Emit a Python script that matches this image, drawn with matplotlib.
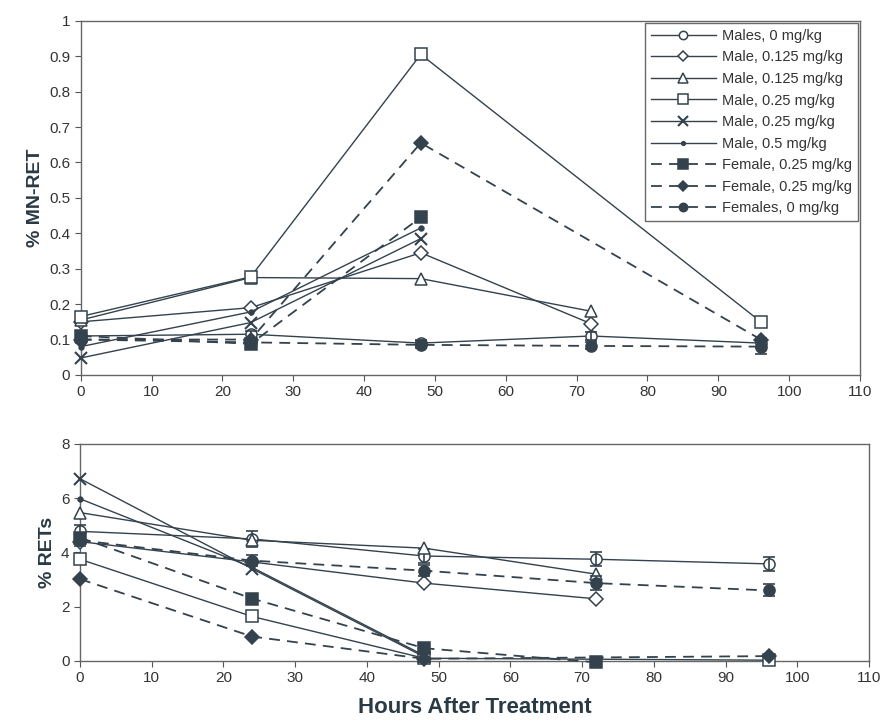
import numpy as np
import matplotlib.pyplot as plt

nan = np.nan
hours = [0, 24, 48, 72, 96]

labels = ["Males, 0 mg/kg", "Male, 0.125 mg/kg", "Male, 0.125 mg/kg",
          "Male, 0.25 mg/kg", "Male, 0.25 mg/kg", "Male, 0.5 mg/kg",
          "Female, 0.25 mg/kg", "Female, 0.25 mg/kg", "Females, 0 mg/kg"]

# % MN-RET
mn_male_0 = [0.11, 0.115, 0.09, 0.11, 0.09]
mn_male_0125a = [0.15, 0.19, 0.345, 0.145, nan]
mn_male_0125b = [0.155, 0.275, 0.272, 0.18, nan]
mn_male_025a = [0.165, 0.277, 0.905, nan, 0.15]
mn_male_025b = [0.048, 0.148, 0.385, nan, nan]
mn_male_05 = [0.08, 0.178, 0.415, nan, nan]
mn_fem_025a = [0.11, 0.088, 0.445, nan, nan]
mn_fem_025b = [0.10, 0.10, 0.655, nan, 0.10]
mn_fem_0 = [0.10, 0.092, 0.085, 0.082, 0.08]
mn_err_male_0 = [0.01, 0.01, 0.01, 0.01, 0.015]
mn_err_fem_0 = [0.01, 0.01, 0.01, 0.01, 0.02]

# % RETs
ret_male_0 = [4.78, 4.5, 3.87, 3.75, 3.58]
ret_male_0125a = [4.4, 3.65, 2.87, 2.29, nan]
ret_male_0125b = [5.47, 4.45, 4.16, 3.2, nan]
ret_male_025a = [3.75, 1.64, 0.1, nan, 0.03]
ret_male_025b = [6.72, 3.4, 0.15, nan, nan]
ret_male_05 = [5.98, 3.45, 0.2, nan, nan]
ret_fem_025a = [4.55, 2.3, 0.47, -0.05, nan]
ret_fem_025b = [3.02, 0.9, 0.08, nan, 0.18]
ret_fem_0 = [4.45, 3.7, 3.33, 2.87, 2.6]
ret_err_male_0 = [0.25, 0.28, 0.25, 0.25, 0.25]
ret_err_fem_0 = [0.2, 0.2, 0.2, 0.25, 0.22]

c = "#33424c"
styles = [
    dict(marker="o", mfc="white", ms=8, ls="-"),
    dict(marker="D", mfc="white", ms=7, ls="-"),
    dict(marker="^", mfc="white", ms=9, ls="-"),
    dict(marker="s", mfc="white", ms=9, ls="-"),
    dict(marker="x", mfc="none", ms=9, ls="-", mew=1.5),
    dict(marker="o", mfc=c, ms=3.5, ls="-"),
    dict(marker="s", mfc=c, ms=9, ls=(0, (6, 4))),
    dict(marker="D", mfc=c, ms=7, ls=(0, (6, 4))),
    dict(marker="o", mfc=c, ms=8, ls=(0, (6, 4))),
]

plt.rcParams['font.family'] = ['Liberation Sans', 'DejaVu Sans']
fig = plt.figure(figsize=(8.85, 7.25), dpi=100)
ax1 = fig.add_axes([0.0912, 0.4828, 0.8806, 0.4886])
ax2 = fig.add_axes([0.0904, 0.0883, 0.8915, 0.2993])


def draw(ax, series, errs):
    for i, (y, st) in enumerate(zip(series, styles)):
        y = np.array(y, dtype=float)
        ok = ~np.isnan(y)
        x = np.array(hours)[ok]
        lw = 1.3 if i >= 6 else 1.0
        kw = dict(st)
        ls = kw.pop("ls")
        ax.plot(x, y[ok], color=c, lw=lw, ls=ls, mec=c, mew=kw.pop("mew", 1.1),
                label=labels[i], clip_on=False, zorder=3, **kw)
        if i in errs:
            ax.errorbar(x, y[ok], yerr=np.array(errs[i])[ok], fmt="none",
                        ecolor=c, elinewidth=1.2, capsize=4, capthick=1.2,
                        clip_on=False, zorder=3)
    ax.set_xlim(0, 110)
    ax.set_xticks(range(0, 111, 10))
    ax.tick_params(direction="out", length=4, color="#555555", labelsize=11,
                   labelcolor="#333333")
    for s in ax.spines.values():
        s.set_color("#666666")
        s.set_linewidth(1.0)


draw(ax1, [mn_male_0, mn_male_0125a, mn_male_0125b, mn_male_025a, mn_male_025b,
           mn_male_05, mn_fem_025a, mn_fem_025b, mn_fem_0],
     {0: mn_err_male_0, 8: mn_err_fem_0})
ax1.set_ylim(0, 1)
ax1.set_yticks(np.arange(0, 1.01, 0.1))
ax1.set_yticklabels(["0", "0.1", "0.2", "0.3", "0.4", "0.5", "0.6", "0.7", "0.8", "0.9", "1"])
ax1.set_ylabel("% MN-RET", fontsize=14, fontweight="bold", color="#2a3a44",
               family=['Liberation Sans Narrow', 'Liberation Sans'])
leg = ax1.legend(loc="upper right", fontsize=10.5, frameon=True, fancybox=False,
                 edgecolor="#444444", handlelength=4.5, labelspacing=0.52,
                 borderaxespad=0.15, borderpad=0.4, markerscale=0.75,
                 handletextpad=0.4)
leg.get_frame().set_linewidth(1.0)
leg.set_zorder(5)
for t in leg.get_texts():
    t.set_color("#333333")

draw(ax2, [ret_male_0, ret_male_0125a, ret_male_0125b, ret_male_025a, ret_male_025b,
           ret_male_05, ret_fem_025a, ret_fem_025b, ret_fem_0],
     {0: ret_err_male_0, 8: ret_err_fem_0})
ax2.set_ylim(0, 8)
ax2.set_yticks([0, 2, 4, 6, 8])
ax2.set_ylabel("% RETs", fontsize=14, fontweight="bold", color="#2a3a44",
               family=['Liberation Sans Narrow', 'Liberation Sans'])
ax2.set_xlabel("Hours After Treatment", fontsize=16, fontweight="bold", color="#2a3a44",
               family=['Liberation Sans Narrow', 'Liberation Sans'], labelpad=8)

fig.savefig("out.png", dpi=100)
